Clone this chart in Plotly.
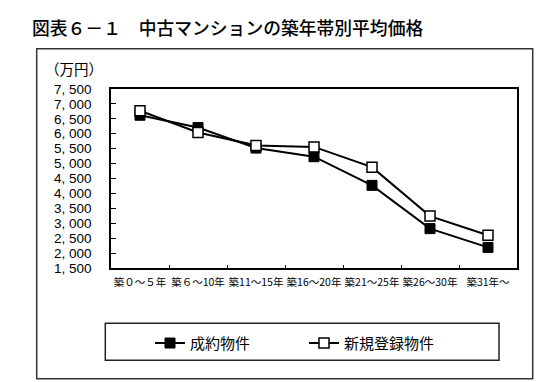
import plotly.graph_objects as go

categories = ["築０～５年", "築６～10年", "築11～15年", "築16～20年",
              "築21～25年", "築26～30年", "築31年～"]
contract = [6620, 6210, 5520, 5230, 4270, 2820, 2190]
listing = [6770, 6040, 5610, 5560, 4880, 3240, 2600]
series_names = ["成約物件", "新規登録物件"]
y_ticks = list(range(1500, 7501, 500))
y_ticktext = [f"{v // 1000}, {v % 1000:03d}" for v in y_ticks]

FONT = "Noto Sans CJK JP"
NUMFONT = "Liberation Sans"
W, H = 549, 382

fig = go.Figure()
fig.add_trace(go.Scatter(
    x=categories, y=contract, name=series_names[0], mode="lines+markers",
    line=dict(color="black", width=2),
    marker=dict(symbol="square", size=10, color="black", line=dict(color="black", width=1)),
    legend="legend",
))
fig.add_trace(go.Scatter(
    x=categories, y=listing, name=series_names[1], mode="lines+markers",
    line=dict(color="black", width=2),
    marker=dict(symbol="square", size=10, color="white", line=dict(color="black", width=1.5)),
    legend="legend2",
))

L, R, T, B = 103, 509, 81, 260.5

def px_x(x):
    return (x - L) / (R - L)

def px_y(y):
    return (B - y) / (B - T)

fig.update_layout(
    width=W, height=H,
    margin=dict(l=L, r=W - R, t=T, b=H - B, pad=0),
    paper_bgcolor="white", plot_bgcolor="white",
    font=dict(family=FONT, color="black"),
    title=dict(text="図表６－１　中古マンションの築年帯別平均価格",
               x=24 / W, xanchor="left", xref="container",
               y=1 - 21 / H, yanchor="middle", yref="container",
               font=dict(size=17.8, family=FONT, color="black", weight=500)),
    xaxis=dict(
        type="category", range=[-0.5, 6.5], showline=True, linecolor="black",
        linewidth=1.5, mirror=True, ticks="inside", ticklen=3, tickcolor="black",
        tickson="boundaries", showgrid=False, tickangle=0,
        tickfont=dict(size=10.5, family=FONT),
        ticklabelstandoff=4,
    ),
    yaxis=dict(
        range=[1500, 7500], tickvals=y_ticks, ticktext=y_ticktext,
        showline=True, linecolor="black", linewidth=1.5, mirror=True,
        ticks="inside", ticklen=5, tickcolor="black", showgrid=False,
        zeroline=False, tickfont=dict(size=13.5, family=NUMFONT),
        ticklabelstandoff=15,
    ),
    legend=dict(orientation="h", x=px_x(142), xanchor="left",
                y=px_y(336), yanchor="middle", font=dict(size=15, family=FONT),
                bgcolor="rgba(0,0,0,0)", borderwidth=0),
    legend2=dict(orientation="h", x=px_x(296), xanchor="left",
                 y=px_y(336), yanchor="middle", font=dict(size=15, family=FONT),
                 bgcolor="rgba(0,0,0,0)", borderwidth=0),
    showlegend=True,
)

# outer frame
fig.add_shape(type="rect", xref="paper", yref="paper",
              x0=px_x(28.7), x1=px_x(524.7), y0=px_y(371.5), y1=px_y(40.7),
              line=dict(color="#333333", width=1.5), fillcolor="rgba(0,0,0,0)", layer="below")
# legend frame
fig.add_shape(type="rect", xref="paper", yref="paper",
              x0=px_x(97.3), x1=px_x(491), y0=px_y(353), y1=px_y(316),
              line=dict(color="#222222", width=1.5), fillcolor="rgba(0,0,0,0)", layer="below")

fig.add_annotation(text="（万円）", xref="paper", yref="paper",
                   x=px_x(66), y=px_y(60), xanchor="center", yanchor="middle",
                   showarrow=False, font=dict(size=14.5, family=FONT))

fig.write_html("out.html")
